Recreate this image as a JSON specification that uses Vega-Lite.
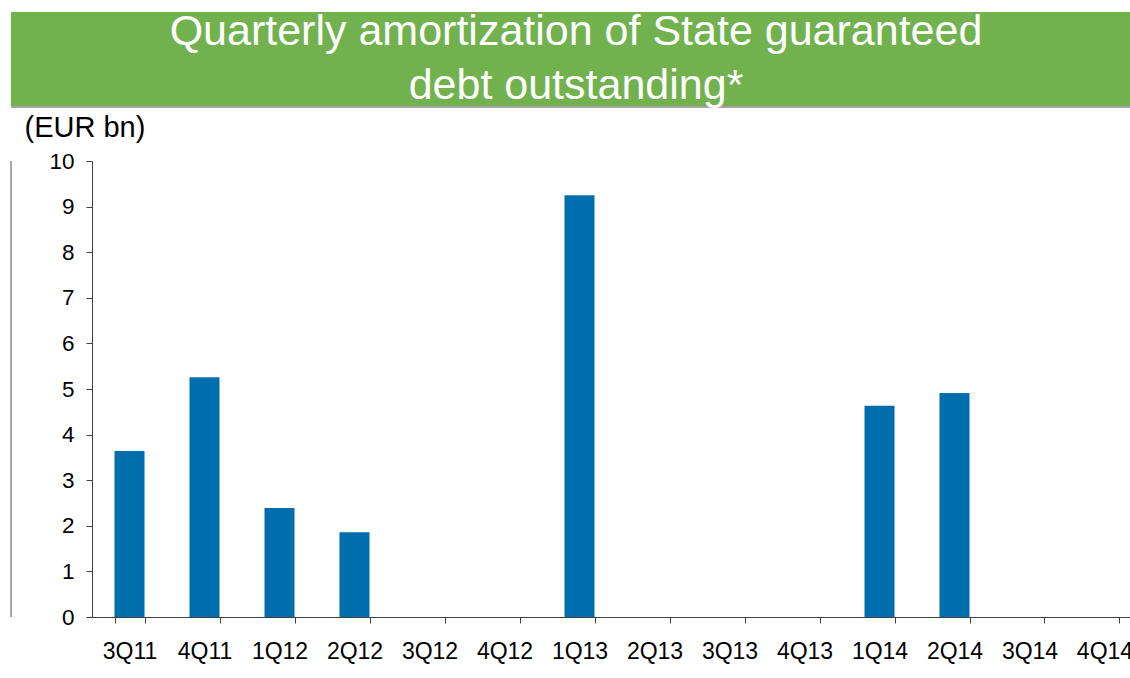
{
  "$schema": "https://vega.github.io/schema/vega-lite/v6.json",
  "background": "white",
  "padding": {"left": 10, "top": 10, "right": 0, "bottom": 0},
  "autosize": {"type": "pad"},
  "config": {"font": "Liberation Sans", "concat": {"spacing": 3}},
  "datasets": {
    "title": [{"t": "Quarterly amortization of State guaranteed\ndebt outstanding*"}],
    "amort": [
      {"quarter": "3Q11", "value": 3.64},
      {"quarter": "4Q11", "value": 5.26},
      {"quarter": "1Q12", "value": 2.39},
      {"quarter": "2Q12", "value": 1.86},
      {"quarter": "3Q12", "value": 0},
      {"quarter": "4Q12", "value": 0},
      {"quarter": "1Q13", "value": 9.25},
      {"quarter": "2Q13", "value": 0},
      {"quarter": "3Q13", "value": 0},
      {"quarter": "4Q13", "value": 0},
      {"quarter": "1Q14", "value": 4.63},
      {"quarter": "2Q14", "value": 4.91},
      {"quarter": "3Q14", "value": 0},
      {"quarter": "4Q14", "value": 0}
    ]
  },
  "vconcat": [
    {
      "width": 1120,
      "height": 95,
      "view": {"fill": "#71B24F", "stroke": "#A6A6A6", "strokeWidth": 2, "strokeDash": [0, 1215, 1120, 95]},
      "data": {"name": "title"},
      "mark": {"type": "text", "color": "white", "fontSize": 43, "lineBreak": "\n", "lineHeight": 54, "align": "center", "baseline": "alphabetic", "dx": 5, "dy": -14.5, "font": "Liberation Sans"},
      "encoding": {"text": {"field": "t", "type": "nominal"}}
    },
    {
      "width": 1120,
      "height": 456,
      "view": {"stroke": "#A6A6A6", "strokeWidth": 2, "strokeDash": [0, 2696, 456]},
      "data": {"name": "amort"},
      "mark": {"type": "bar", "color": "#006DAD"},
      "encoding": {
        "x": {
          "field": "quarter", "type": "nominal", "sort": null,
          "scale": {"paddingInner": 0.6, "paddingOuter": 0.7667, "align": 0.9},
          "axis": {"title": null, "labelAngle": 0, "labelFontSize": 23, "labelColor": "black", "labelPadding": 17, "tickSize": 6, "tickColor": "#404040", "domainColor": "#404040", "domainDash": [0, 81, 3000], "tickBand": "extent"}
        },
        "y": {
          "field": "value", "type": "quantitative",
          "scale": {"domain": [0, 10], "nice": false},
          "axis": {"offset": -81, "values": [0,1,2,3,4,5,6,7,8,9,10], "grid": false, "labelFontSize": 22.5, "labelColor": "black", "labelPadding": 12, "tickSize": 6, "tickColor": "#404040", "domainColor": "#404040",
            "title": "(EUR bn)", "titleAngle": 0, "titleAlign": "left", "titleBaseline": "alphabetic", "titleX": -68, "titleY": -25, "titleFontSize": 29, "titleFontWeight": "normal", "titleColor": "black"}
        }
      }
    }
  ]
}
